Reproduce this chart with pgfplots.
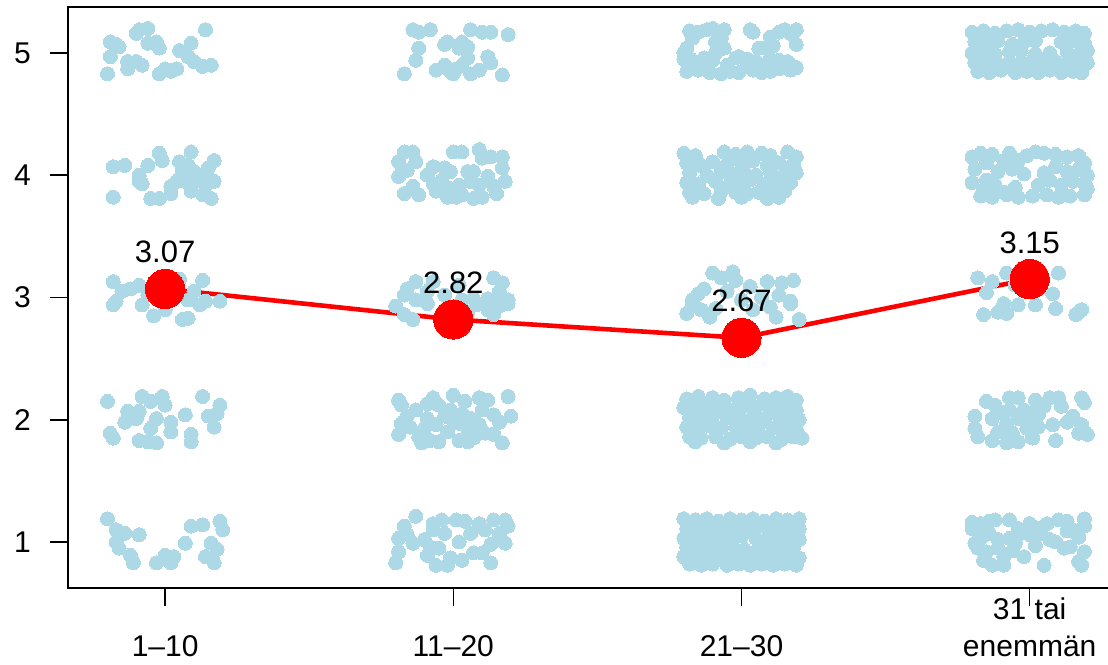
\documentclass[border=0pt]{standalone}
\usepackage{fontspec}
\setmainfont{Liberation Sans}
\usepackage{pgfplots}
\pgfplotsset{compat=1.18}
\definecolor{lb}{HTML}{ADD8E6}
\pgfplotsset{jit/.style={only marks, color=lb, mark=*, mark size=3.5pt, mark options={draw=lb, fill=lb, line width=0pt}}}
\begin{document}
\begin{tikzpicture}
\path[use as bounding box, clip] (-34.15pt,-38pt) rectangle (519.85pt,294pt);
\begin{axis}[
  at={(0,0)}, anchor=south west,
  scale only axis, width=529.25pt, height=290.5pt,
  xmin=0.664, xmax=4.337, ymin=0.6237, ymax=5.376,
  xtick={1,2,3,4}, xticklabels={1–10,11–20,21–30,{31 tai\\enemmän}},
  ytick={1,2,3,4,5},
  tick align=outside, xtick pos=left, ytick pos=left,
  major tick length=9pt,
  axis line style={line width=0.9pt},
  every tick/.style={black, line width=0.8pt},
  /pgf/number format/assume math mode=true,
  tick label style={font=\fontsize{15}{18.5}\selectfont, text=black},
  xticklabel style={anchor=south, align=center, inner sep=0pt, yshift=-25.5pt},
  yticklabel style={anchor=east, inner sep=0pt, xshift=-9.5pt},
  clip=true,
]
% 1-10
\addplot[jit] coordinates {
(0.81,5.09)(0.84,5.05)(0.81,4.97)(0.91,5.19)(0.94,5.20)(0.90,5.16)(0.94,5.08)(0.97,5.09)(0.98,5.04)(1.05,5.02)(1.09,5.08)(1.14,5.19)(1.08,4.97)(1.10,4.93)(1.13,4.89)(1.16,4.90)(0.87,4.93)(0.90,4.93)(0.92,4.90)(0.87,4.87)(0.80,4.83)(0.98,4.83)(1.02,4.85)(1.04,4.87)(1.00,4.87)(0.83,5.07)
(0.82,4.07)(0.86,4.08)(0.82,3.82)(0.91,4.00)(0.94,4.08)(0.92,3.93)(0.98,4.18)(0.99,4.12)(0.95,3.81)(0.98,3.81)(1.02,3.85)(1.02,3.91)(1.04,3.95)(1.06,4.03)(1.05,4.11)(1.09,4.19)(1.08,4.08)(1.10,4.03)(1.10,3.95)(1.09,3.87)(1.13,3.84)(1.16,3.81)(1.14,3.92)(1.17,3.95)(1.17,4.12)(1.15,4.06)(1.13,4.00)(1.07,3.95)(0.91,3.95)
(0.82,3.13)(0.88,3.07)(0.85,3.05)(0.91,3.10)(0.94,3.02)(0.98,3.12)(1.03,3.00)(1.13,3.14)(1.10,3.05)(1.08,2.98)(0.83,2.97)(1.14,2.97)(0.82,2.94)(0.92,2.94)(1.12,2.94)(1.19,2.97)(1.06,2.82)(1.08,2.83)(1.00,2.90)(0.96,2.85)(1.05,3.15)
(0.80,2.15)(0.92,2.19)(0.95,2.15)(0.99,2.19)(1.00,2.12)(0.87,2.07)(0.91,2.07)(0.86,1.98)(0.90,2.01)(0.97,2.01)(0.95,1.93)(1.02,1.98)(1.02,1.90)(1.07,2.04)(1.13,2.19)(1.19,2.12)(1.18,2.05)(1.15,2.03)(1.17,1.94)(0.81,1.89)(0.82,1.85)(0.91,1.83)(0.94,1.82)(0.97,1.81)(1.09,1.88)(1.09,1.82)
(0.80,1.19)(0.83,1.10)(0.86,1.07)(0.91,1.06)(0.83,1.00)(0.84,0.95)(0.88,0.89)(0.89,0.83)(0.97,0.83)(1.00,0.89)(1.03,0.88)(1.02,0.83)(1.07,0.99)(1.09,1.13)(1.13,1.14)(1.19,1.17)(1.20,1.10)(1.16,0.99)(1.18,0.94)(1.14,0.88)(1.17,0.83)
};
% 11-20
\addplot[jit] coordinates {
(1.86,5.19)(1.88,5.17)(1.92,5.19)(1.88,5.04)(1.87,4.94)(1.83,4.83)(1.97,5.07)(1.98,5.09)(2.03,5.09)(2.05,5.05)(2.06,5.19)(2.10,5.17)(2.13,5.17)(2.19,5.15)(2.12,4.97)(2.13,4.92)(2.17,4.82)(1.94,4.86)(1.97,4.90)(1.99,4.85)(2.01,4.87)(2.03,4.90)(2.06,4.83)(2.09,4.86)(2.05,4.96)(2.02,5.04)(2.00,4.83)
(1.83,4.19)(1.86,4.19)(1.81,4.11)(1.87,4.11)(1.81,3.99)(1.84,4.04)(2.00,4.19)(2.03,4.19)(2.09,4.21)(2.13,4.15)(2.17,4.15)(2.17,4.06)(1.93,4.07)(1.97,4.06)(1.99,4.03)(2.07,4.03)(2.12,3.99)(2.06,3.95)(2.09,3.92)(2.14,3.91)(2.18,3.95)(1.86,3.91)(1.88,3.84)(1.93,3.93)(1.96,3.96)(1.99,3.89)(1.98,3.82)(2.02,3.92)(2.03,3.84)(2.07,3.81)(2.10,3.82)(2.15,3.85)(1.94,3.87)(2.01,3.82)(2.05,4.03)(1.91,4.00)(2.10,4.14)(1.83,3.85)
(1.84,3.07)(1.87,3.13)(1.83,3.02)(1.91,3.05)(1.87,2.98)(2.14,3.16)(2.17,3.12)(2.16,3.05)(2.12,2.99)(2.15,2.97)(2.19,2.98)(2.03,2.98)(2.07,2.99)(1.83,2.86)(1.86,2.82)(1.91,2.95)(2.08,2.94)(2.12,2.90)(2.14,2.86)(2.16,2.93)(2.19,2.95)(2.13,2.95)(1.93,3.13)(2.02,3.10)(1.97,3.02)(2.05,2.88)(1.80,2.93)
(1.81,2.16)(1.87,2.08)(1.82,1.97)(1.81,1.88)(1.85,1.94)(1.88,1.86)(1.89,1.81)(1.93,2.18)(1.95,2.12)(2.00,2.20)(1.99,2.08)(1.91,2.01)(1.94,1.96)(1.97,2.03)(1.92,1.83)(1.95,1.82)(1.98,1.90)(2.02,1.83)(2.03,2.05)(2.04,2.15)(2.06,2.01)(2.05,1.92)(2.07,1.85)(2.09,2.18)(2.12,2.16)(2.10,2.08)(2.14,2.04)(2.16,1.98)(2.19,2.19)(2.20,2.03)(2.14,1.88)(2.17,1.81)(2.09,1.96)(2.02,1.97)(1.90,1.93)(1.84,2.03)(2.11,1.89)(2.05,1.82)(2.00,1.99)(1.91,2.13)(1.82,2.12)
(1.87,1.21)(1.83,1.13)(1.81,1.03)(1.84,1.06)(1.81,0.92)(1.80,0.83)(1.90,1.02)(1.93,1.15)(1.96,1.18)(2.01,1.18)(2.04,1.17)(2.09,1.15)(2.14,1.18)(2.18,1.18)(2.19,1.13)(2.11,1.10)(2.16,1.07)(2.18,0.99)(2.13,0.98)(2.10,0.91)(2.07,0.91)(2.13,0.83)(2.02,1.00)(1.99,0.87)(1.98,0.81)(2.03,0.85)(1.94,0.81)(1.91,0.89)(1.92,0.96)(1.95,0.95)(1.97,1.07)(2.06,1.07)(1.93,1.10)(1.86,0.99)
};
% 21-30
\addplot[jit] coordinates {
(2.82,5.18)(2.85,5.17)(2.88,5.19)(2.90,5.20)(2.94,5.19)(2.93,5.12)(2.83,5.12)(3.04,5.17)(3.03,5.19)(3.13,5.17)(3.15,5.19)(3.17,5.16)(3.19,5.19)(3.10,5.13)
(2.81,5.04)(2.80,5.00)(2.91,5.09)(2.94,5.04)(2.91,5.00)(3.06,5.04)(3.08,5.04)(3.11,5.06)(3.19,5.07)
(2.80,4.95)(2.83,4.94)(2.87,4.96)(2.90,4.94)(2.98,4.96)(2.99,4.97)(3.02,4.95)(3.05,4.93)(3.10,4.95)(3.13,4.94)(3.16,4.93)
(2.81,4.85)(2.85,4.86)(2.89,4.84)(2.93,4.83)(2.96,4.85)(2.99,4.84)(3.04,4.86)(3.07,4.84)(3.10,4.85)(3.13,4.87)(3.17,4.86)(3.19,4.88)(2.86,4.90)(2.95,4.90)(3.02,4.89)(3.08,4.90)
(2.80,4.18)(2.84,4.16)(2.94,4.19)(2.98,4.17)(3.02,4.19)(3.07,4.18)(3.10,4.16)(3.16,4.19)(3.19,4.15)
(2.81,4.10)(2.86,4.08)(2.90,4.11)(2.95,4.09)(3.00,4.10)(3.04,4.12)(3.09,4.08)(3.13,4.10)(3.18,4.09)
(2.82,4.02)(2.88,4.00)(2.93,4.03)(2.97,4.01)(3.01,4.02)(3.05,4.00)(3.10,4.03)(3.15,4.01)(3.19,4.02)
(2.81,3.94)(2.85,3.93)(2.91,3.95)(2.96,3.93)(3.00,3.94)(3.03,3.96)(3.08,3.93)(3.12,3.95)(3.17,3.94)
(2.82,3.86)(2.87,3.85)(2.93,3.87)(2.98,3.86)(3.02,3.85)(3.06,3.86)(3.11,3.85)(3.15,3.87)
(2.83,3.82)(2.92,3.81)(3.00,3.82)(3.09,3.81)(3.13,3.82)
(2.90,3.20)(2.93,3.16)(2.97,3.21)(2.98,3.14)(2.87,3.07)(2.83,2.98)(3.03,3.09)(3.09,3.13)(3.14,3.12)(3.18,3.14)(3.13,3.02)(3.17,2.97)(2.81,2.87)(2.86,2.90)(2.91,2.91)(3.12,2.84)(3.17,2.95)(3.20,2.82)(3.04,2.90)(2.83,2.95)(2.85,3.03)(2.95,3.05)(3.00,2.98)(3.07,3.00)(2.89,2.84)(3.10,2.92)
(2.81,2.17)(2.85,2.19)(2.90,2.18)(2.94,2.16)(2.99,2.18)(3.03,2.20)(3.08,2.17)(3.12,2.18)(3.16,2.19)(3.19,2.16)
(2.80,2.10)(2.84,2.09)(2.88,2.11)(2.92,2.10)(2.97,2.08)(3.01,2.11)(3.05,2.10)(3.10,2.09)(3.15,2.11)(3.19,2.08)
(2.82,2.02)(2.86,2.01)(2.90,2.03)(2.95,2.02)(3.00,2.00)(3.04,2.02)(3.08,2.01)(3.13,2.03)(3.17,2.02)(3.20,2.00)
(2.81,1.94)(2.85,1.93)(2.89,1.95)(2.93,1.93)(2.98,1.94)(3.02,1.92)(3.06,1.95)(3.11,1.93)(3.15,1.94)(3.19,1.92)
(2.82,1.86)(2.86,1.85)(2.91,1.86)(2.96,1.84)(3.00,1.86)(3.05,1.85)(3.09,1.86)(3.14,1.84)(3.18,1.86)(3.21,1.85)
(2.84,1.82)(2.94,1.81)(3.03,1.82)(3.12,1.81)
(2.80,1.19)(2.84,1.18)(2.88,1.19)(2.92,1.17)(2.96,1.19)(3.00,1.18)(3.04,1.19)(3.08,1.17)(3.12,1.19)(3.16,1.18)(3.20,1.19)
(2.81,1.11)(2.85,1.12)(2.89,1.10)(2.93,1.12)(2.97,1.11)(3.01,1.10)(3.05,1.12)(3.09,1.11)(3.13,1.10)(3.17,1.12)(3.20,1.11)
(2.80,1.03)(2.84,1.04)(2.88,1.02)(2.92,1.04)(2.96,1.03)(3.00,1.05)(3.05,1.03)(3.09,1.02)(3.13,1.04)(3.17,1.03)(3.20,1.02)
(2.81,0.96)(2.85,0.95)(2.89,0.97)(2.93,0.95)(2.97,0.96)(3.01,0.94)(3.06,0.96)(3.10,0.95)(3.14,0.97)(3.18,0.95)
(2.80,0.88)(2.84,0.87)(2.88,0.89)(2.92,0.88)(2.96,0.87)(3.00,0.89)(3.04,0.88)(3.08,0.87)(3.12,0.89)(3.16,0.88)(3.20,0.87)
(2.82,0.82)(2.86,0.81)(2.90,0.82)(2.95,0.81)(2.99,0.82)(3.03,0.81)(3.07,0.82)(3.11,0.81)(3.15,0.82)(3.19,0.81)
};
% 31 tai enemmän
\addplot[jit] coordinates {
(3.80,5.17)(3.84,5.18)(3.88,5.16)(3.92,5.18)(3.96,5.19)(4.00,5.17)(4.04,5.18)(4.08,5.19)(4.12,5.17)(4.16,5.18)(4.19,5.16)
(3.81,5.09)(3.85,5.08)(3.89,5.10)(3.94,5.07)(3.98,5.09)(4.02,5.10)(4.11,5.09)(4.15,5.10)(4.19,5.08)
(3.80,5.00)(3.84,5.01)(3.88,4.99)(3.93,5.01)(3.97,5.02)(4.02,4.99)(4.07,5.00)(4.13,5.01)(4.17,4.99)(4.20,5.02)
(3.81,4.92)(3.85,4.93)(3.89,4.91)(3.93,4.93)(3.97,4.92)(4.01,4.94)(4.05,4.92)(4.09,4.93)(4.13,4.91)(4.17,4.93)(4.20,4.92)
(3.82,4.85)(3.86,4.84)(3.90,4.86)(3.95,4.84)(3.99,4.85)(4.03,4.84)(4.07,4.86)(4.11,4.84)(4.15,4.85)(4.18,4.84)
(3.80,4.15)(3.83,4.18)(3.87,4.17)(3.85,4.10)(3.81,4.05)(3.80,3.94)(3.85,3.96)(3.91,4.12)(3.93,4.18)(3.96,4.12)(3.99,4.16)(4.02,4.19)(4.05,4.18)(4.09,4.17)(4.13,4.15)(4.17,4.16)(4.19,4.10)
(3.89,4.03)(3.94,4.05)(3.98,4.01)(4.05,4.02)(4.09,4.07)(4.13,4.03)(4.17,4.05)(4.20,4.00)
(3.84,3.88)(3.88,3.92)(3.91,3.86)(3.95,3.90)(4.03,3.92)(4.07,3.96)(4.11,3.92)(4.15,3.95)(4.19,3.93)
(3.83,3.83)(3.87,3.82)(3.92,3.84)(3.96,3.82)(4.01,3.83)(4.06,3.84)(4.10,3.82)(4.14,3.83)(4.19,3.84)(4.20,3.89)
(3.82,3.16)(3.87,3.13)(3.92,3.20)(4.10,3.20)(3.84,2.86)(3.89,2.88)(3.92,2.87)(3.96,2.94)(4.02,2.94)(4.09,2.91)(4.16,2.86)(4.18,2.90)(3.91,2.95)(3.85,3.04)(3.95,3.10)(4.08,3.03)(4.17,2.88)
(3.85,2.15)(3.88,2.12)(3.93,2.18)(3.96,2.18)(4.02,2.16)(4.07,2.18)(4.10,2.18)(4.18,2.18)(3.81,2.03)(3.87,2.01)(3.92,1.97)(3.96,2.01)(3.99,2.00)(4.03,2.04)(4.03,1.94)(4.08,1.96)(4.13,1.98)(4.15,2.03)(4.18,1.96)(4.20,1.88)(4.17,1.89)(3.81,1.93)(3.82,1.86)(3.87,1.83)(3.92,1.81)(3.96,1.82)(4.01,1.85)(4.09,1.83)(3.89,1.90)(3.94,1.89)(3.99,1.93)(4.11,2.11)(4.05,2.11)(3.98,2.08)(4.02,2.08)(3.93,2.08)(3.90,2.06)(4.19,2.14)
(3.80,1.11)(3.83,1.15)(3.86,1.17)(3.88,1.18)(3.93,1.18)(3.96,1.11)(4.00,1.15)(4.03,1.11)(4.10,1.18)(4.13,1.17)(4.19,1.19)(4.19,1.13)(3.83,1.03)(3.86,1.07)(3.89,1.02)(3.93,1.03)(3.96,1.06)(4.00,1.06)(4.04,1.07)(4.07,1.02)(4.13,1.09)(4.15,1.10)(4.17,1.04)(3.82,0.95)(3.85,0.92)(3.89,0.95)(3.94,0.93)(3.98,0.88)(4.12,0.95)(4.14,0.96)(4.19,0.92)(3.84,0.85)(3.87,0.81)(3.91,0.81)(4.05,0.81)(4.17,0.84)(4.18,0.81)(3.81,0.99)(3.91,0.88)(3.95,0.99)(4.09,1.00)(4.02,0.97)(3.80,1.16)(4.06,1.15)
};
% means
\addplot[red, line width=2.3pt, mark=*, mark size=9.8pt, mark options={fill=red, draw=red, line width=0pt},
  nodes near coords, point meta=explicit symbolic,
  every node near coord/.style={anchor=base, yshift=13pt, inner sep=0pt, font=\fontsize{15.5}{18}\selectfont, text=black}]
coordinates {(1,3.07)[3.07] (2,2.82)[2.82] (3,2.67)[2.67] (4,3.15)[3.15]};
\end{axis}
\end{tikzpicture}
\end{document}
